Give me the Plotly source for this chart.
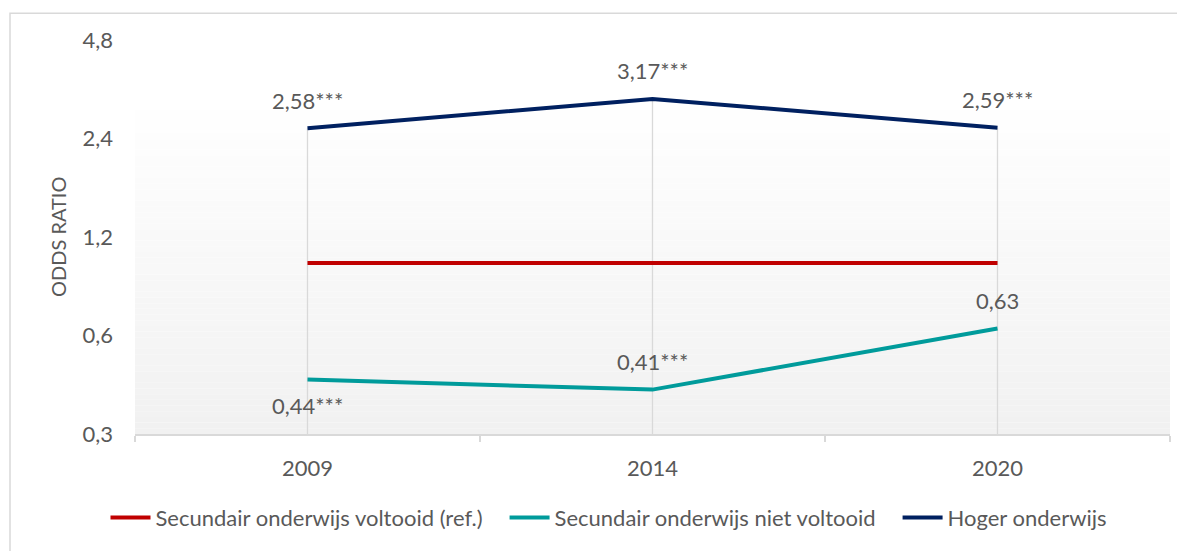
import plotly.graph_objects as go
import math

years = ["2009", "2014", "2020"]
ref_vals = [1.0, 1.0, 1.0]
niet_vals = [0.44, 0.41, 0.63]
niet_labels = ["0,44***", "0,41***", "0,63"]
niet_pos = ["below", "above", "above"]
hoger_vals = [2.58, 3.17, 2.59]
hoger_labels = ["2,58***", "3,17***", "2,59***"]
hoger_pos = ["above", "above", "above"]
y_ticks = [0.3, 0.6, 1.2, 2.4, 4.8]
y_ticktext = ["0,3", "0,6", "1,2", "2,4", "4,8"]

names = ["Secundair onderwijs voltooid (ref.)", "Secundair onderwijs niet voltooid", "Hoger onderwijs"]
colors = ["#C00000", "#009B9B", "#002060"]

FONT = "Lato"
FS = 22
TXT = "#595959"
OFF = 8  # page body margin offset
W, H = 1185 - OFF, 551 - OFF
L, R, T, B = 135 - OFF, 15, 40 - OFF, 115
pw, ph = W - L - R, H - T - B
PAD = "\u00a0" * 3

def px_x(p):
    return (p - OFF - L) / pw

def px_y(p):
    return (H - B - (p - OFF)) / ph

fig = go.Figure()

# gradient background of plot area
top_p = px_y(93)
n = 60
for i in range(n):
    f = i / (n - 1)
    c = int(round(255 - (255 - 241) * (1 - f)))
    fig.add_shape(type="rect", xref="paper", yref="paper",
                  x0=0, x1=1, y0=top_p * i / n, y1=top_p * (i + 1) / n,
                  fillcolor=f"rgb({c},{c},{c})", line_width=0, layer="below")

# drop lines
for i, yr in enumerate(years):
    top = max(ref_vals[i], niet_vals[i], hoger_vals[i])
    fig.add_trace(go.Scatter(x=[yr, yr], y=[top, y_ticks[0]], mode="lines",
                             line=dict(color="#D9D9D9", width=1.3),
                             showlegend=False, hoverinfo="skip"))

for k, (name, vals, col) in enumerate(zip(names, [ref_vals, niet_vals, hoger_vals], colors)):
    fig.add_trace(go.Scatter(x=years, y=vals, mode="lines",
                             name=name + (PAD if k < len(names) - 1 else ""),
                             line=dict(color=col, width=4)))

# data labels
for vals, labels, pos in [(niet_vals, niet_labels, niet_pos), (hoger_vals, hoger_labels, hoger_pos)]:
    for i, (v, lab, p) in enumerate(zip(vals, labels, pos)):
        fig.add_annotation(x=i, y=math.log10(v), xref="x", yref="y", text=lab,
                           showarrow=False,
                           yshift=28 if p == "above" else -26,
                           font=dict(family=FONT, size=FS, color=TXT))

# y title
fig.add_annotation(xref="paper", yref="paper", x=px_x(58), y=0.5, text="ODDS RATIO",
                   textangle=-90, showarrow=False, xanchor="center", yanchor="middle",
                   font=dict(family=FONT, size=20, color=TXT))

# outer border
fig.add_shape(type="rect", xref="paper", yref="paper",
              x0=px_x(10), x1=px_x(1200), y0=px_y(13), y1=px_y(570),
              line=dict(color="#D9D9D9", width=1.5), fillcolor="rgba(0,0,0,0)")

fig.update_layout(
    width=W, height=H,
    margin=dict(l=L, r=R, t=T, b=B),
    paper_bgcolor="white", plot_bgcolor="white",
    font=dict(family=FONT, size=FS, color=TXT),
    showlegend=True,
    legend=dict(orientation="h", x=px_x(609), xanchor="center",
                y=px_y(520), yanchor="middle",
                font=dict(family=FONT, size=FS, color=TXT),
                itemwidth=40, tracegroupgap=0),
    xaxis=dict(type="category", range=[-0.5, 2.5], showgrid=False,
               showline=True, linecolor="#D9D9D9", linewidth=1.5,
               ticks="outside", tickson="boundaries", ticklen=6, tickcolor="#D9D9D9",
               tickwidth=1.5, ticklabelstandoff=14,
               tickfont=dict(family=FONT, size=FS, color=TXT), zeroline=False),
    yaxis=dict(type="log", range=[math.log10(0.3), math.log10(4.8)],
               tickvals=y_ticks, ticktext=y_ticktext, showgrid=False,
               showline=False, zeroline=False, ticks="", ticklabelstandoff=21,
               tickfont=dict(family=FONT, size=FS, color=TXT)),
)

fig.write_html("out.html")
